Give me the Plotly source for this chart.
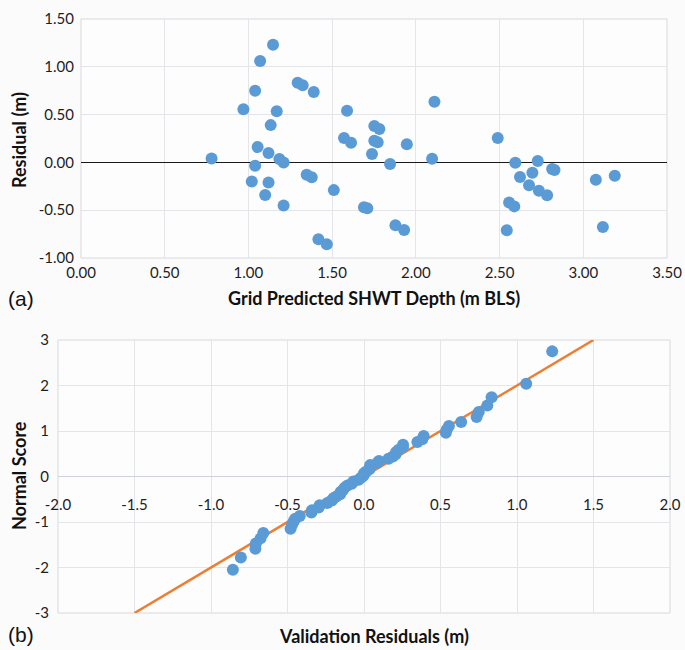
import plotly.graph_objects as go

# ---- Panel (a): residual vs grid-predicted SHWT depth ----
depth = [0.78, 0.97, 1.04, 1.07, 1.147, 1.169, 1.133, 1.055, 1.12, 1.185, 1.21, 1.04,
         1.02, 1.12, 1.10, 1.21, 1.294, 1.324, 1.39, 1.348, 1.378, 1.51, 1.418, 1.468,
         1.589, 1.571, 1.613, 1.69, 1.71, 1.752, 1.782, 1.752, 1.772, 1.738, 1.846,
         1.878, 1.93, 1.946, 2.097, 2.111, 2.489, 2.594, 2.622, 2.696, 2.728, 2.676,
         2.735, 2.784, 2.814, 2.828, 2.557, 2.588, 2.543, 3.075, 3.188, 3.117]
residual = [0.04, 0.555, 0.75, 1.06, 1.23, 0.535, 0.39, 0.16, 0.098, 0.035, 0.00, -0.035,
            -0.20, -0.21, -0.34, -0.45, 0.834, 0.806, 0.736, -0.128, -0.156, -0.29, -0.805, -0.857,
            0.54, 0.255, 0.206, -0.47, -0.48, 0.381, 0.349, 0.227, 0.21, 0.088, -0.017,
            -0.658, -0.707, 0.189, 0.039, 0.635, 0.255, -0.003, -0.153, -0.108, 0.015, -0.24,
            -0.296, -0.344, -0.069, -0.08, -0.42, -0.46, -0.71, -0.181, -0.139, -0.676]

# ---- Panel (b): normal probability plot ----
qq_residuals = [-0.857, -0.805, -0.71, -0.707, -0.676, -0.658, -0.48, -0.47, -0.46, -0.45,
                -0.42, -0.344, -0.34, -0.296, -0.29, -0.24, -0.21, -0.20, -0.181, -0.156,
                -0.153, -0.139, -0.128, -0.108, -0.08, -0.069, -0.035, -0.017, -0.003, 0.00,
                0.015, 0.035, 0.039, 0.04, 0.088, 0.098, 0.16, 0.189, 0.206, 0.21,
                0.227, 0.255, 0.255, 0.349, 0.381, 0.39, 0.535, 0.54, 0.555, 0.635,
                0.736, 0.75, 0.806, 0.834, 1.06, 1.23]
qq_scores = [-2.05, -1.78, -1.59, -1.47, -1.36, -1.24, -1.15, -1.06, -0.99, -0.93,
             -0.87, -0.79, -0.74, -0.68, -0.63, -0.58, -0.53, -0.48, -0.44, -0.39,
             -0.34, -0.30, -0.25, -0.20, -0.16, -0.11, -0.07, -0.02, 0.02, 0.07,
             0.11, 0.16, 0.20, 0.25, 0.30, 0.34, 0.39, 0.44, 0.49, 0.54,
             0.59, 0.65, 0.70, 0.76, 0.82, 0.89, 0.96, 1.03, 1.11, 1.20,
             1.31, 1.42, 1.56, 1.74, 2.04, 2.75]
ref_line_x = [-1.5, 1.5]
ref_line_y = [-3, 3]

top_x_ticks = [0.0, 0.5, 1.0, 1.5, 2.0, 2.5, 3.0, 3.5]
top_y_ticks = [-1.0, -0.5, 0.0, 0.5, 1.0, 1.5]
bot_x_ticks = [-2.0, -1.5, -1.0, -0.5, 0.0, 0.5, 1.0, 1.5, 2.0]
bot_y_ticks = [-3, -2, -1, 0, 1, 2, 3]

W, H = 685, 650
BLUE = "#5B9BD5"
ORANGE = "#ED7D31"
GRID = "#e3e5e8"
TICKFONT = dict(family="Lato, Carlito, sans-serif", size=15, color="#1e1e1e")
TITLEFONT = dict(family="Lato, Carlito, sans-serif", size=18, color="#111111")

def px_dom(a, b, total):
    return [a / total, b / total]

top_xd = px_dom(81, 667, W)
top_yd = [1 - 258 / H, 1 - 19 / H]
bot_xd = px_dom(58, 670, W)
bot_yd = [1 - 613 / H, 1 - 340 / H]

fig = go.Figure()

fig.add_trace(go.Scatter(x=depth, y=residual, mode="markers",
                         marker=dict(color=BLUE, size=12, line=dict(width=0)),
                         xaxis="x", yaxis="y", showlegend=False, hoverinfo="x+y"))
fig.add_trace(go.Scatter(x=ref_line_x, y=ref_line_y, mode="lines",
                         line=dict(color=ORANGE, width=2.5),
                         xaxis="x2", yaxis="y2", showlegend=False))
fig.add_trace(go.Scatter(x=qq_residuals, y=qq_scores, mode="markers",
                         marker=dict(color=BLUE, size=12, line=dict(width=0)),
                         xaxis="x2", yaxis="y2", showlegend=False))

def label(text, x, y, font, angle=0, xanchor="center"):
    return dict(text=text, x=x / W, y=1 - y / H, xref="paper", yref="paper",
                xanchor=xanchor, yanchor="middle", textangle=angle, showarrow=False,
                font=font)

LETTERFONT = dict(family="Liberation Sans, Arial, sans-serif", size=21, color="#111111")

fig.update_layout(
    width=W, height=H,
    margin=dict(l=0, r=0, t=0, b=0, autoexpand=False),
    paper_bgcolor="#fbfbfc",
    plot_bgcolor="#fdfdfe",
    xaxis=dict(domain=top_xd, anchor="y", range=[0, 3.5], tickvals=top_x_ticks,
               ticktext=[f"{v:.2f}" for v in top_x_ticks], showgrid=True, gridcolor=GRID,
               gridwidth=1, zeroline=False, showline=False, ticks="", tickfont=TICKFONT,
               ticklabelstandoff=4, automargin=False),
    yaxis=dict(domain=top_yd, anchor="x", range=[-1.0, 1.5], tickvals=top_y_ticks,
               ticktext=[f"{v:.2f}" for v in top_y_ticks], showgrid=True, gridcolor=GRID,
               gridwidth=1, zeroline=True, zerolinecolor="#1a1a1a", zerolinewidth=1.2,
               showline=False, ticks="", tickfont=TICKFONT, ticklabelstandoff=6,
               automargin=False),
    xaxis2=dict(domain=bot_xd, anchor="free", position=(bot_yd[0] + bot_yd[1]) / 2,
                range=[-2.0, 2.0], tickvals=bot_x_ticks,
                ticktext=[f"{v:.1f}" for v in bot_x_ticks], showgrid=True, gridcolor=GRID,
                gridwidth=1, zeroline=False, showline=False, ticks="", tickfont=TICKFONT,
                ticklabelstandoff=17, automargin=False),
    yaxis2=dict(domain=bot_yd, anchor="x2", range=[-3, 3], tickvals=bot_y_ticks,
                ticktext=[str(v) for v in bot_y_ticks], showgrid=True, gridcolor=GRID,
                gridwidth=1, zeroline=True, zerolinecolor="#cfd2d6", zerolinewidth=1.2,
                showline=False, ticks="", tickfont=TICKFONT, ticklabelstandoff=8,
                automargin=False),
    shapes=[
        dict(type="rect", xref="x domain", yref="y domain", x0=0, x1=1, y0=0, y1=1,
             line=dict(color="#d6d9dc", width=1), layer="below"),
        dict(type="rect", xref="x2 domain", yref="y2 domain", x0=0, x1=1, y0=0, y1=1,
             line=dict(color="#d6d9dc", width=1), layer="below"),
    ],
    annotations=[
        label("<b>Residual (m)</b>", 19, 140, TITLEFONT, angle=-90),
        label("<b>Grid Predicted SHWT Depth (m BLS)</b>", 374, 298, TITLEFONT),
        label("(a)", 6, 298, LETTERFONT, xanchor="left"),
        label("<b>Normal Score</b>", 19, 476, TITLEFONT, angle=-90),
        label("<b>Validation Residuals (m)</b>", 374, 636, TITLEFONT),
        label("(b)", 6, 634, LETTERFONT, xanchor="left"),
    ],
)

fig.write_html("out.html")
